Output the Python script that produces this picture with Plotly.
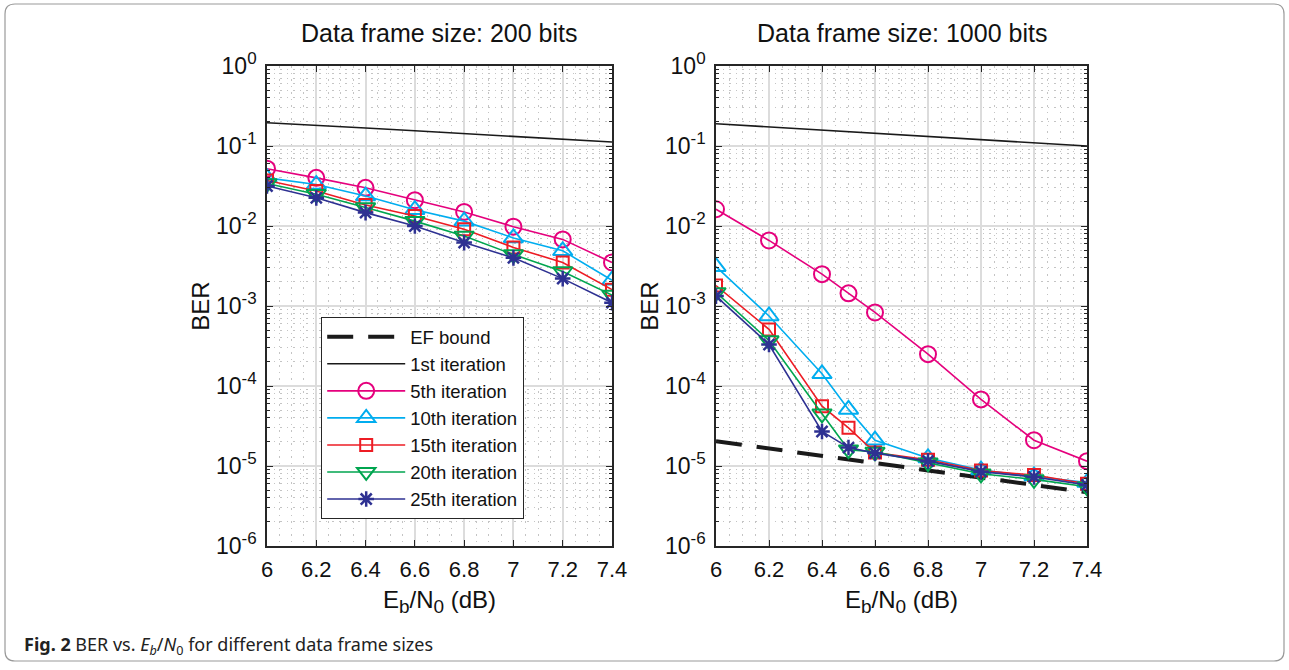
import plotly.graph_objects as go

# ---------------- data ----------------
x_std = [6.0, 6.2, 6.4, 6.6, 6.8, 7.0, 7.2, 7.4]
x_1000 = [6.0, 6.2, 6.4, 6.5, 6.6, 6.8, 7.0, 7.2, 7.4]

# Data frame size: 200 bits
it1_200 = [0.195, 0.182, 0.168, 0.155, 0.143, 0.132, 0.121, 0.112]
it5_200 = [0.052, 0.040, 0.030, 0.021, 0.015, 0.0098, 0.0068, 0.0035]
it10_200 = [0.040, 0.033, 0.0237, 0.016, 0.0115, 0.0071, 0.0049, 0.0021]
it15_200 = [0.037, 0.0274, 0.0183, 0.0133, 0.0091, 0.0054, 0.0035, 0.0016]
it20_200 = [0.034, 0.025, 0.017, 0.0115, 0.0075, 0.0044, 0.0027, 0.00137]
it25_200 = [0.0316, 0.0225, 0.0147, 0.0100, 0.0062, 0.0040, 0.0022, 0.0011]

# Data frame size: 1000 bits
ef_1000 = [2.04e-5, 1.65e-5, 1.34e-5, 1.09e-5, 8.8e-6, 7.1e-6, 5.8e-6, 4.7e-6]
it1_1000 = [0.190, 0.173, 0.158, 0.144, 0.132, 0.120, 0.110, 0.100]
it5_1000 = [0.0162, 0.0066, 0.0025, 0.00144, 0.00083, 0.00025, 6.8e-5, 2.1e-5, 1.15e-5]
it10_1000 = [0.0031, 0.00075, 0.000142, 5.1e-5, 2.1e-5, 1.26e-5, 8.9e-6, 7.5e-6, 6.2e-6]
it15_1000 = [0.0018, 0.00051, 5.6e-5, 3.0e-5, 1.47e-5, 1.2e-5, 8.8e-6, 7.7e-6, 6.0e-6]
it20_1000 = [0.00148, 0.00037, 4.5e-5, 1.6e-5, 1.5e-5, 1.1e-5, 8.0e-6, 6.8e-6, 5.5e-6]
it25_1000 = [0.00133, 0.00033, 2.7e-5, 1.7e-5, 1.45e-5, 1.15e-5, 8.5e-6, 7.3e-6, 5.8e-6]

x_ticks = [6, 6.2, 6.4, 6.6, 6.8, 7, 7.2, 7.4]
x_ticktext = ["6", "6.2", "6.4", "6.6", "6.8", "7", "7.2", "7.4"]
y_exps = [-6, -5, -4, -3, -2, -1, 0]
titles = ["Data frame size: 200 bits", "Data frame size: 1000 bits"]
caption = "<b>Fig. 2</b> BER vs. <i>E<sub>b</sub></i>/<i>N</i><sub>0</sub> for different data frame sizes"

# ---------------- styles ----------------
FONT = "Liberation Sans, Arial, sans-serif"
MAG, CYA, RED, GRN, NAV = "#E5007D", "#00ADEF", "#ED1C24", "#00A54F", "#2E3192"

series = [
    ("5th iteration", MAG, "circle-open", 16, 2.0),
    ("10th iteration", CYA, "triangle-up-open", 17, 2.0),
    ("15th iteration", RED, "square-open", 12, 2.0),
    ("20th iteration", GRN, "triangle-down-open", 17, 2.0),
    ("25th iteration", NAV, "asterisk-open", 13, 2.5),
]
data200 = [it5_200, it10_200, it15_200, it20_200, it25_200]
data1000 = [it5_1000, it10_1000, it15_1000, it20_1000, it25_1000]

fig = go.Figure()

fig.add_trace(go.Scatter(x=x_std, y=ef_1000, mode="lines", name="EF bound",
                         line=dict(color="#1a1a1a", width=4, dash="26px,15px"),
                         xaxis="x2", yaxis="y2", legendgroup="g0", showlegend=True))
fig.add_trace(go.Scatter(x=x_std, y=it1_200, mode="lines", name="1st iteration",
                         line=dict(color="#1a1a1a", width=1.6),
                         xaxis="x", yaxis="y", legendgroup="g1"))
for i, ((name, col, sym, sz, lw), ys) in enumerate(zip(series, data200)):
    fig.add_trace(go.Scatter(x=x_std, y=ys, mode="lines+markers", name=name,
                             line=dict(color=col, width=1.6),
                             marker=dict(symbol=sym, size=sz, color=col,
                                         line=dict(color=col, width=lw)),
                             xaxis="x", yaxis="y", legendgroup="g%d" % (i + 2)))

fig.add_trace(go.Scatter(x=x_std, y=it1_1000, mode="lines", name="1st iteration",
                         line=dict(color="#1a1a1a", width=1.6),
                         xaxis="x2", yaxis="y2", showlegend=False))
for (name, col, sym, sz, lw), ys in zip(series, data1000):
    fig.add_trace(go.Scatter(x=x_1000, y=ys, mode="lines+markers", name=name,
                             line=dict(color=col, width=1.6),
                             marker=dict(symbol=sym, size=sz, color=col,
                                         line=dict(color=col, width=lw)),
                             xaxis="x2", yaxis="y2", showlegend=False))

# ---------------- axes ----------------
W, H = 1289, 670
top_px, bot_px = 66, 546
ydom = [(H - bot_px) / H, (H - top_px) / H]
xdom1 = [267 / W, 612 / W]
xdom2 = [716 / W, 1087 / W]

AX = "#262626"
TXT = "#111111"
minor_y = [k * 10.0 ** e for e in range(-6, 0) for k in range(2, 10)]
minor_x = [6 + 0.05 * i for i in range(29) if i % 4 != 0]
SUB = "<sub><span style='font-size:19px'>%s</span></sub>"
SUP = "<sup><span style='font-size:17px'>%d</span></sup>"

def xaxis(dom, anchor):
    return dict(domain=dom, anchor=anchor, range=[6, 7.4], tickmode="array",
                tickvals=x_ticks, ticktext=x_ticktext, ticks="inside", ticklen=6,
                tickcolor=AX, tickwidth=1.2, showline=True, linecolor=AX, linewidth=1.5,
                mirror="ticks", showgrid=True, gridcolor="#dcdcdc", gridwidth=1.6,
                zeroline=False, tickfont=dict(family=FONT, size=22, color=TXT),
                ticklabelstandoff=3,
                title=dict(text="E" + SUB % "b" + "/N" + SUB % "0" + " (dB)",
                           font=dict(family=FONT, size=24, color=TXT), standoff=10),
                minor=dict(tickmode="array", tickvals=minor_x, showgrid=True,
                           gridcolor="#c4c4c4", griddash="1.5px,5px", gridwidth=1.2, ticks=""),
                automargin=False)

def yaxis(anchor):
    return dict(domain=ydom, anchor=anchor, type="log", range=[-6, 0], tickmode="array",
                tickvals=[10.0 ** e for e in y_exps],
                ticktext=["10" + SUP % e for e in y_exps],
                ticks="inside", ticklen=6, tickcolor=AX, tickwidth=1.2,
                showline=True, linecolor=AX, linewidth=1.5, mirror="ticks",
                showgrid=True, gridcolor="#dcdcdc", gridwidth=1.6, zeroline=False,
                tickfont=dict(family=FONT, size=23, color=TXT), ticklabelstandoff=4,
                title=dict(text="BER", font=dict(family=FONT, size=24, color=TXT), standoff=0),
                minor=dict(tickmode="array", tickvals=minor_y, showgrid=True,
                           gridcolor="#c4c4c4", griddash="1.5px,5px", gridwidth=1.2,
                           ticks="inside", ticklen=3, tickcolor=AX),
                automargin=False)

fig.update_layout(
    width=W, height=H,
    margin=dict(l=0, r=0, t=0, b=0, autoexpand=False),
    paper_bgcolor="white", plot_bgcolor="white",
    font=dict(family=FONT, color=TXT),
    xaxis=xaxis(xdom1, "y"), yaxis=yaxis("x"),
    xaxis2=xaxis(xdom2, "y2"), yaxis2=yaxis("x2"),
    legend=dict(x=321 / W, y=(H - 317) / H, xanchor="left", yanchor="top",
                bgcolor="white", bordercolor=AX, borderwidth=1.2,
                font=dict(family=FONT, size=18.5, color=TXT),
                traceorder="grouped", tracegroupgap=0, itemwidth=78),
    showlegend=True,
)

for dom, t in zip([xdom1, xdom2], titles):
    fig.add_annotation(x=(dom[0] + dom[1]) / 2, y=(H - 33) / H, xref="paper", yref="paper",
                       text=t, showarrow=False, font=dict(family=FONT, size=25, color=TXT),
                       xanchor="center", yanchor="middle")

fig.add_annotation(x=22 / W, y=(H - 645) / H, xref="paper", yref="paper", text=caption,
                   showarrow=False, xanchor="left", yanchor="middle",
                   font=dict(family="Noto Sans, Open Sans, sans-serif", size=18, color="#222"))

x0, x1 = 5 / W, 1284 / W
y0, y1 = (H - 661) / H, (H - 4) / H
rx, ry = 10 / W, 10 / H
path = (f"M{x0+rx},{y1} L{x1-rx},{y1} Q{x1},{y1} {x1},{y1-ry} L{x1},{y0+ry} "
        f"Q{x1},{y0} {x1-rx},{y0} L{x0+rx},{y0} Q{x0},{y0} {x0},{y0+ry} "
        f"L{x0},{y1-ry} Q{x0},{y1} {x0+rx},{y1} Z")
fig.add_shape(type="path", path=path, xref="paper", yref="paper",
              line=dict(color="#9a9a9a", width=1.2), layer="below")

fig.write_html("out.html", config={"displayModeBar": False},
               post_script="document.body.style.margin='0';document.body.style.overflow='hidden';")
